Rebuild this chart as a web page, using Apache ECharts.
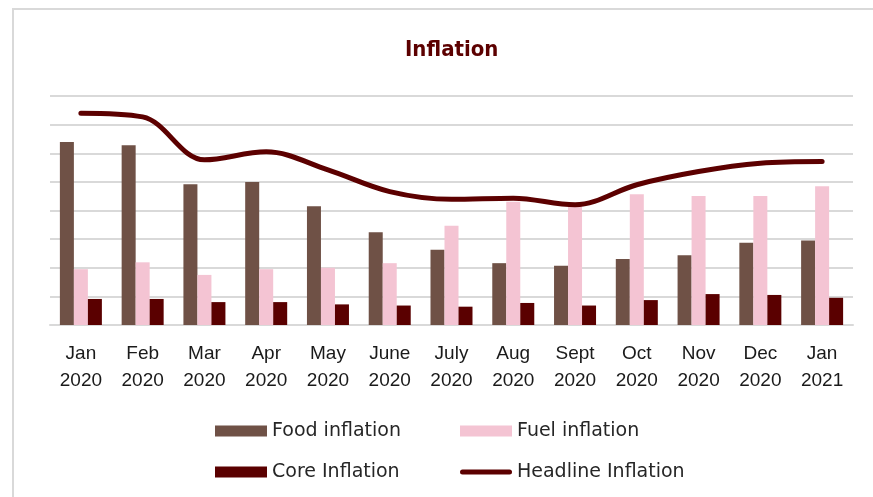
<!DOCTYPE html>
<html>
<head>
<meta charset="utf-8">
<script src="https://cdn.jsdelivr.net/npm/echarts@6/dist/echarts.min.js"></script>
<style>
html,body{margin:0;padding:0;background:#fff;}
#c{width:873px;height:497px;}
</style>
</head>
<body>
<div id="c"></div>
<script>
const months = ['Jan\n2020','Feb\n2020','Mar\n2020','Apr\n2020','May\n2020','June\n2020','July\n2020','Aug\n2020','Sept\n2020','Oct\n2020','Nov\n2020','Dec\n2020','Jan\n2021'];
const foodInflation = [6.39, 6.28, 4.92, 5.00, 4.15, 3.24, 2.63, 2.16, 2.07, 2.31, 2.44, 2.87, 2.95];
const fuelInflation = [1.95, 2.19, 1.75, 1.95, 2.00, 2.16, 3.47, 4.31, 4.18, 4.57, 4.51, 4.51, 4.85];
const coreInflation = [0.91, 0.91, 0.80, 0.80, 0.72, 0.68, 0.64, 0.77, 0.68, 0.87, 1.08, 1.05, 0.95];
const headlineInflation = [7.40, 7.27, 5.77, 6.05, 5.42, 4.66, 4.39, 4.43, 4.20, 4.90, 5.36, 5.65, 5.71];

const FONT = 'Liberation Sans';
const chart = echarts.init(document.getElementById('c'));
const legendText = {fontFamily: 'DejaVu Sans', fontSize: 19, color: '#262626', lineHeight: 20};
const pill = 'path://M0,0 M52,11 M2.5,3 L49.5,3 Q52,3 52,5.5 Q52,8 49.5,8 L2.5,8 Q0,8 0,5.5 Q0,3 2.5,3 Z';
chart.setOption({
  animation: false,
  backgroundColor: '#fff',
  graphic: [
    {type:'line', shape:{x1:12, y1:9, x2:873, y2:9}, style:{stroke:'#d9d9d9', lineWidth:2}},
    {type:'line', shape:{x1:13, y1:9, x2:13, y2:497}, style:{stroke:'#d9d9d9', lineWidth:2}}
  ],
  title: {
    text: 'Inflation', left: 400, top: 34,
    textStyle: {fontFamily: "'DejaVu Sans Condensed', 'DejaVu Sans', sans-serif", fontWeight: 'bold', fontSize: 22, color: '#5c0000'}
  },
  grid: {left: 50, right: 20, top: 96, bottom: 172, containLabel: false},
  legend: [
    {left: 215, top: 421, padding: 0, orient: 'vertical', itemWidth: 52, itemHeight: 11, itemGap: 21,
     data: ['Food inflation', 'Core Inflation'], textStyle: legendText, icon: 'rect'},
    {left: 460, top: 421, padding: 0, orient: 'vertical', itemWidth: 52, itemHeight: 11, itemGap: 21,
     data: [{name:'Fuel inflation', icon:'rect'}, {name:'Headline Inflation', icon: pill}], textStyle: legendText}
  ],
  xAxis: {
    type: 'category', data: months,
    axisLine: {show: true, lineStyle: {color: '#d9d9d9', width: 2}},
    axisTick: {show: false},
    axisLabel: {fontFamily: FONT, fontSize: 19, color: '#1a1a1a', lineHeight: 27, margin: 15, interval: 0}
  },
  yAxis: {
    type: 'value', min: 0, max: 8, interval: 1,
    axisLabel: {show: false}, axisLine: {show: false}, axisTick: {show: false},
    splitLine: {lineStyle: {color: '#d9d9d9', width: 2}}
  },
  series: [
    {name: 'Food inflation', type: 'bar', data: foodInflation, barGap: '0%', barCategoryGap: '32%',
     itemStyle: {color: '#6f5146'}},
    {name: 'Fuel inflation', type: 'bar', data: fuelInflation, itemStyle: {color: '#f4c4d3'}},
    {name: 'Core Inflation', type: 'bar', data: coreInflation, itemStyle: {color: '#5a0000'}},
    {name: 'Headline Inflation', type: 'line', data: headlineInflation, smooth: 0.35, symbol: 'none',
     lineStyle: {color: '#5c0000', width: 5, cap: 'round'}, itemStyle: {color: '#5c0000'}, z: 5}
  ]
});
</script>
</body>
</html>
